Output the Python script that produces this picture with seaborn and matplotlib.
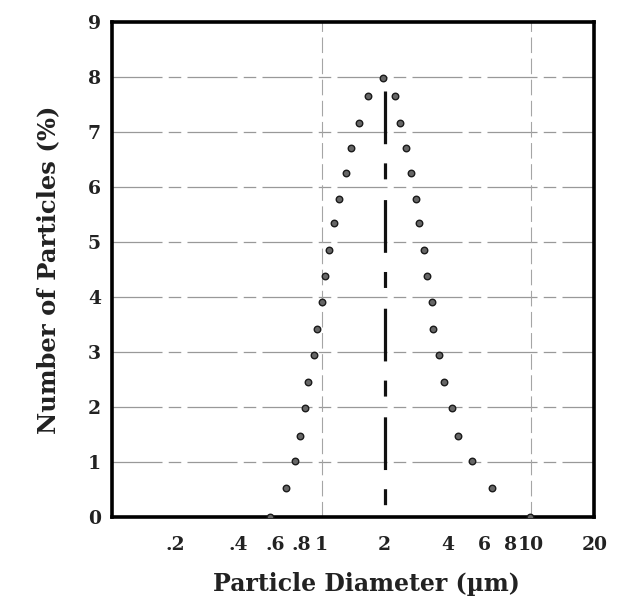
import numpy as np
import pandas as pd
import matplotlib
matplotlib.use("Agg")
import matplotlib.pyplot as plt
import seaborn as sns

# Data
diameter_left = [0.57, 0.68, 0.75, 0.785, 0.836, 0.86, 0.916, 0.947, 1.0,
                 1.04, 1.09, 1.14, 1.21, 1.31, 1.38, 1.51, 1.67, 1.97]
percent_left = [0.0, 0.52, 1.01, 1.48, 1.99, 2.46, 2.95, 3.42, 3.91,
                4.39, 4.86, 5.34, 5.79, 6.26, 6.72, 7.17, 7.66, 7.98]
diameter_right = [2.23, 2.37, 2.52, 2.67, 2.82, 2.92, 3.09, 3.17, 3.35,
                  3.41, 3.64, 3.85, 4.18, 4.49, 5.24, 6.52, 9.9]
percent_right = [7.66, 7.17, 6.72, 6.26, 5.79, 5.34, 4.86, 4.39, 3.91,
                 3.42, 2.95, 2.46, 1.99, 1.48, 1.01, 0.52, 0.0]
median_diameter = 2.0
median_top = 7.75

x_ticks = [0.2, 0.4, 0.6, 0.8, 1, 2, 4, 6, 8, 10, 20]
x_ticklabels = [".2", ".4", ".6", ".8", "1", "2", "4", "6", "8", "10", "20"]
y_ticks = list(range(0, 10))

df = pd.DataFrame({
    "diameter": diameter_left + diameter_right,
    "percent": percent_left + percent_right,
})

sns.set_theme(style="white")
plt.rcParams["font.family"] = ["DejaVu Serif"]

fig = plt.figure(figsize=(6.19, 5.99), dpi=100)
ax = fig.add_axes([0.181, 0.137, 0.779, 0.826])

# grid lines (faint, like the scanned original)
for yv in range(1, 9):
    ax.axhline(yv, color="#999999", lw=0.9, ls=(0, (40, 5, 10, 5)), zorder=1)
for xv in [1, 10]:
    ax.axvline(xv, color="#a5a5a5", lw=0.8, ls=(0, (14, 5)), zorder=1)

# median dashed line
ax.plot([median_diameter, median_diameter], [median_top, 0.0], color="#111111",
        lw=2.3, ls=(0, (16.5, 6.0, 5.0, 6.5)), solid_capstyle="butt", zorder=2)

sns.scatterplot(data=df, x="diameter", y="percent", ax=ax, s=22,
                color="#666666", edgecolor="#1a1a1a", linewidth=1.0, zorder=3,
                legend=False)

ax.set_xscale("log")
ax.set_xlim(0.1, 20)
ax.set_ylim(0, 9)
ax.set_xticks(x_ticks)
ax.set_xticklabels(x_ticklabels)
ax.xaxis.set_minor_locator(matplotlib.ticker.NullLocator())
ax.set_yticks(y_ticks)

for side in ["left", "bottom", "top", "right"]:
    ax.spines[side].set_color("black")
    ax.spines[side].set_linewidth(2.6)

ax.tick_params(axis="x", direction="inout", length=6, width=1.5, colors="black",
               labelsize=13.5, pad=11)
ax.tick_params(axis="y", direction="out", length=4, width=1.5, colors="black",
               labelsize=13.5, pad=4)
for lab in ax.get_xticklabels() + ax.get_yticklabels():
    lab.set_fontweight("bold")
    lab.set_color("#222222")

ax.set_xlabel("Particle Diameter (µm)", fontsize=17, fontweight="bold",
              color="#222222")
ax.xaxis.set_label_coords(0.527, -0.112)
ax.set_ylabel("Number of Particles (%)", fontsize=17.5, fontweight="bold",
              color="#222222", labelpad=20)

fig.savefig("out.png", dpi=100, facecolor="white")
